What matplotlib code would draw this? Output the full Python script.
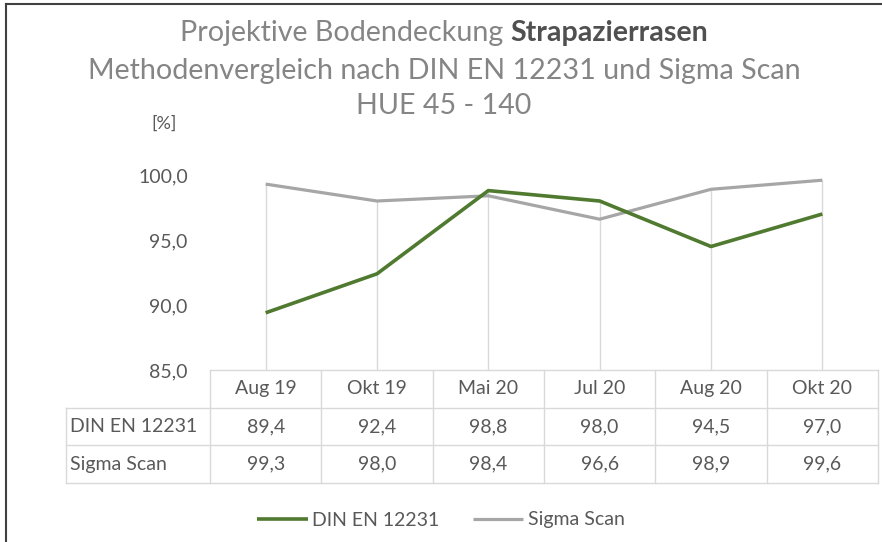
import matplotlib
matplotlib.use("Agg")
import matplotlib.pyplot as plt
from matplotlib.lines import Line2D

plt.rcParams['font.family'] = ['Lato', 'DejaVu Sans']

# ---- data ----
categories = ["Aug 19", "Okt 19", "Mai 20", "Jul 20", "Aug 20", "Okt 20"]
din_values = [89.4, 92.4, 98.8, 98.0, 94.5, 97.0]
sigma_values = [99.3, 98.0, 98.4, 96.6, 98.9, 99.6]
series_names = ["DIN EN 12231", "Sigma Scan"]
y_ticks = [85.0, 90.0, 95.0, 100.0]
title_line1_normal = "Projektive Bodendeckung "
title_line1_bold = "Strapazierrasen"
title_line2 = "Methodenvergleich nach DIN EN 12231 und Sigma Scan"
title_line3 = "HUE 45 - 140"
y_unit = "[%]"

W, H = 882, 542
fig = plt.figure(figsize=(W / 100, H / 100), dpi=100)
fig.patch.set_facecolor("white")

def fx(px):
    return px / W

def fy(py):
    return 1 - py / H

TEXT = "#595959"
GRID = "#d9d9d9"
DIN_C = "#4f7a2f"
SIG_C = "#a6a6a6"
FS = 14

# ---- main axes ----
L, R, T, B = 210, 878, 175, 370
ax = fig.add_axes([fx(L), fy(B), fx(R) - fx(L), (B - T) / H])
n = len(categories)
xs = list(range(n))
ax.set_xlim(-0.5, n - 0.5)
ax.set_ylim(y_ticks[0], y_ticks[-1])
for s in ["top", "right", "left"]:
    ax.spines[s].set_visible(False)
ax.spines["bottom"].set_color(GRID)
ax.spines["bottom"].set_linewidth(1)
ax.set_xticks([])
ax.set_yticks(y_ticks)
ax.set_yticklabels([f"{v:.1f}".replace(".", ",") for v in y_ticks], color=TEXT, fontsize=FS)
ax.tick_params(axis="y", length=0, pad=16)
ax.patch.set_alpha(0)

# drop lines
tops = [max(a, b) for a, b in zip(din_values, sigma_values)]
ax.vlines(xs, y_ticks[0], tops, colors=GRID, linewidth=1, zorder=1)

l_sig, = ax.plot(xs, sigma_values, color=SIG_C, linewidth=2.3, zorder=2, solid_capstyle="butt")
l_din, = ax.plot(xs, din_values, color=DIN_C, linewidth=2.6, zorder=3, solid_capstyle="butt")

# y unit
fig.text(fx(164), fy(124), y_unit, ha="center", va="center", color=TEXT, fontsize=FS - 1)

# ---- data table ----
TL, TB = 66, 483
col_w = (R - L) / n
x_left = -0.5 - (L - TL) / col_w
tax = fig.add_axes([fx(TL), fy(TB), fx(R) - fx(TL), (TB - B) / H])
tax.set_xlim(x_left, n - 0.5)
tax.set_ylim(3, 0)
tax.axis("off")
lk = dict(color=GRID, linewidth=1, clip_on=False)
for yy in [1, 2, 3]:
    tax.plot([x_left, n - 0.5], [yy, yy], **lk)
for i in range(n + 1):
    tax.plot([i - 0.5, i - 0.5], [0, 3], **lk)
tax.plot([x_left, x_left], [1, 3], **lk)

for i, c in enumerate(categories):
    tax.text(i, 0.5, c, ha="center", va="center", color=TEXT, fontsize=FS)
rows = [din_values, sigma_values]
for r, (name, vals) in enumerate(zip(series_names, rows)):
    tax.text(x_left + 0.04, r + 1.5, name, ha="left", va="center", color=TEXT, fontsize=FS)
    for i, v in enumerate(vals):
        tax.text(i, r + 1.5, f"{v:.1f}".replace(".", ","), ha="center", va="center",
                 color=TEXT, fontsize=FS)

# ---- legend ----
fig.legend([l_din, l_sig], series_names, loc="center", bbox_to_anchor=(fx(441), fy(520)),
           ncol=2, frameon=False, fontsize=FS, handlelength=2.6, handletextpad=0.25,
           columnspacing=1.7, labelcolor=TEXT)

# ---- titles ----
r = fig.canvas.get_renderer()
TFS = 20.6
TC = "#858585"
cx = fx(444)
t1a = fig.text(0, fy(33), title_line1_normal, fontsize=TFS, color=TC, va="center", ha="left")
t1b = fig.text(0, fy(33), title_line1_bold, fontsize=TFS, color="#505050", va="center",
               ha="left", fontweight="bold")
w1 = t1a.get_window_extent(r).width
w2 = t1b.get_window_extent(r).width
start = cx * W - (w1 + w2) / 2
t1a.set_x(start / W)
t1b.set_x((start + w1) / W)
fig.text(cx, fy(71), title_line2, fontsize=TFS, color=TC, ha="center", va="center")
fig.text(cx, fy(106), title_line3, fontsize=TFS, color=TC, ha="center", va="center")

# ---- outer frame ----
fig.add_artist(Line2D([fx(6), fx(6)], [fy(4), 0], transform=fig.transFigure, color="#404040", linewidth=1.5))
fig.add_artist(Line2D([fx(6), 1], [fy(4), fy(4)], transform=fig.transFigure, color="#404040", linewidth=1.5))

fig.savefig("out.png", dpi=100, facecolor="white")
